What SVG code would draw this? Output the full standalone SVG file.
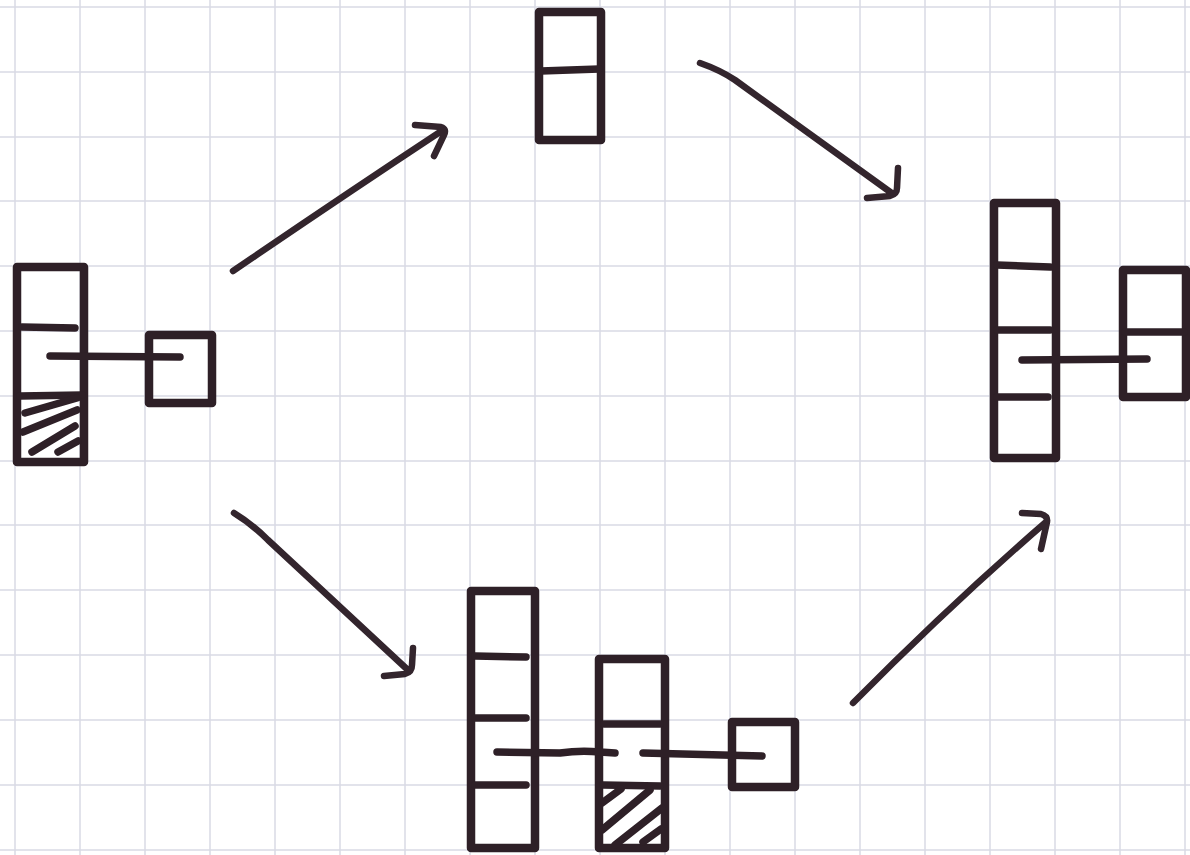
<svg xmlns="http://www.w3.org/2000/svg" width="1190" height="855" viewBox="0 0 1190 855">
<style>
.grid line{stroke:#d9dae4;stroke-width:1.5}
.box{fill:none;stroke:#2e2027;stroke-width:8.5;stroke-linejoin:round;stroke-linecap:round}
.ink{fill:none;stroke:#2e2027;stroke-width:7.5;stroke-linecap:round;stroke-linejoin:round}
.arrow{fill:none;stroke:#33252d;stroke-width:6.5;stroke-linecap:round;stroke-linejoin:round}
</style>
<rect width="1190" height="855" fill="#ffffff"/>
<g class="grid">
<line x1="15" y1="0" x2="15" y2="855"/><line x1="80" y1="0" x2="80" y2="855"/><line x1="145" y1="0" x2="145" y2="855"/><line x1="210" y1="0" x2="210" y2="855"/><line x1="275" y1="0" x2="275" y2="855"/><line x1="340" y1="0" x2="340" y2="855"/><line x1="405" y1="0" x2="405" y2="855"/><line x1="470" y1="0" x2="470" y2="855"/><line x1="535" y1="0" x2="535" y2="855"/><line x1="600" y1="0" x2="600" y2="855"/><line x1="665" y1="0" x2="665" y2="855"/><line x1="730" y1="0" x2="730" y2="855"/><line x1="795" y1="0" x2="795" y2="855"/><line x1="860" y1="0" x2="860" y2="855"/><line x1="925" y1="0" x2="925" y2="855"/><line x1="990" y1="0" x2="990" y2="855"/><line x1="1055" y1="0" x2="1055" y2="855"/><line x1="1120" y1="0" x2="1120" y2="855"/><line x1="1185" y1="0" x2="1185" y2="855"/>
<line x1="0" y1="7" x2="1190" y2="7"/><line x1="0" y1="72" x2="1190" y2="72"/><line x1="0" y1="137" x2="1190" y2="137"/><line x1="0" y1="201" x2="1190" y2="201"/><line x1="0" y1="266" x2="1190" y2="266"/><line x1="0" y1="331" x2="1190" y2="331"/><line x1="0" y1="396" x2="1190" y2="396"/><line x1="0" y1="461" x2="1190" y2="461"/><line x1="0" y1="525" x2="1190" y2="525"/><line x1="0" y1="590" x2="1190" y2="590"/><line x1="0" y1="655" x2="1190" y2="655"/><line x1="0" y1="720" x2="1190" y2="720"/><line x1="0" y1="785" x2="1190" y2="785"/><line x1="0" y1="850" x2="1190" y2="850"/>
</g>

<g id="node-left">
<rect class="box" x="17" y="267" width="67" height="195"/>
<line class="ink" x1="22" y1="327" x2="75" y2="328"/>
<line class="ink" x1="20" y1="396" x2="82" y2="395"/>
<path class="ink" d="M25,413 L77,398 M23,432 L77,410 M32,452 L75,426 M58,452 L78,441"/>
<line class="ink" x1="50" y1="356" x2="180" y2="357"/>
<rect class="box" x="149" y="335" width="63" height="68"/>
</g>

<g id="node-top">
<rect class="box" x="539" y="12" width="62" height="128"/>
<line class="ink" x1="541" y1="71" x2="599" y2="69"/>
</g>

<g id="node-right">
<rect class="box" x="994" y="203" width="62" height="255"/>
<line class="ink" x1="997" y1="265" x2="1050" y2="267"/>
<line class="ink" x1="997" y1="330" x2="1050" y2="330"/>
<line class="ink" x1="997" y1="397" x2="1048" y2="397"/>
<line class="ink" x1="1022" y1="360" x2="1147" y2="359"/>
<rect class="box" x="1123" y="270" width="63" height="127"/>
<line class="ink" x1="1125" y1="332" x2="1184" y2="332"/>
</g>

<g id="node-bottom">
<rect class="box" x="471" y="591" width="64" height="257"/>
<line class="ink" x1="475" y1="656" x2="526" y2="657"/>
<line class="ink" x1="475" y1="718" x2="526" y2="718"/>
<line class="ink" x1="475" y1="785" x2="526" y2="785"/>
<rect class="box" x="599" y="659" width="66" height="189"/>
<line class="ink" x1="604" y1="724" x2="660" y2="724"/>
<line class="ink" x1="603" y1="785" x2="660" y2="786"/>
<path class="ink" d="M602,803 L621,789 M602,830 L650,790 M615,845 L662,808 M643,842 L661,829"/>
<path class="ink" d="M497,752 L560,753 Q580,750 600,752 L615,753"/>
<line class="ink" x1="643" y1="753" x2="762" y2="756"/>
<rect class="box" x="732" y="722" width="63" height="65"/>
</g>

<g id="connectors">
<path class="arrow" d="M233,271 Q340,198 443,130 M415,125 L441,127 Q447,129 444,135 L434,156"/>
<path class="arrow" d="M700,63 Q720,70 735,80 L893,194 M867,198 L890,196 Q897,194 897,188 L898,168"/>
<path class="arrow" d="M234,513 Q252,524 268,540 L409,671 M384,676 L405,674 Q412,672 412,665 L413,648"/>
<path class="arrow" d="M853,703 Q950,605 1046,522 M1022,513 L1041,514 Q1048,516 1047,522 L1041,549"/>
</g>
</svg>
